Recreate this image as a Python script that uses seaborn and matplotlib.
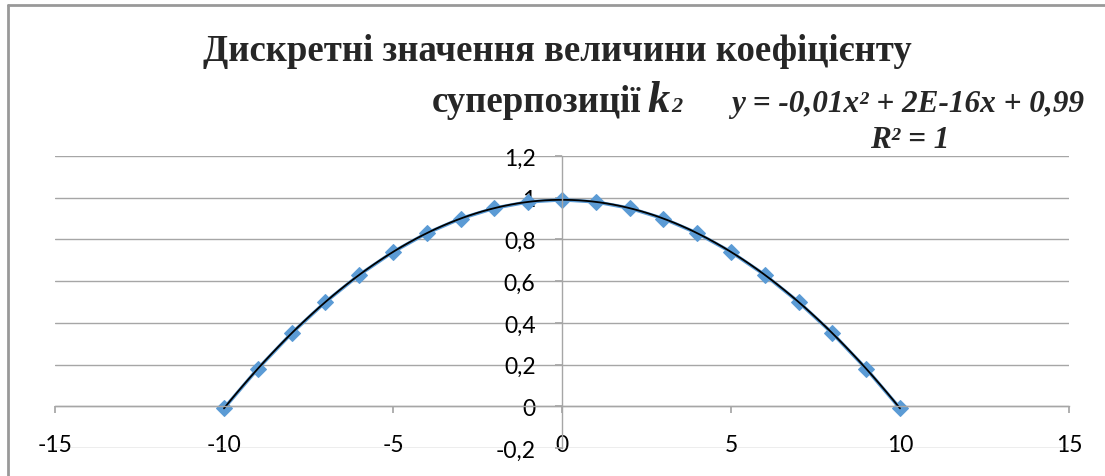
import numpy as np
import pandas as pd
import seaborn as sns
import matplotlib.pyplot as plt
from matplotlib.lines import Line2D
from matplotlib.ticker import FuncFormatter

# дані
x_vals = list(range(-10, 11))
y_vals = [-0.01, 0.18, 0.35, 0.50, 0.63, 0.74, 0.83, 0.90, 0.95, 0.98, 0.99,
          0.98, 0.95, 0.90, 0.83, 0.74, 0.63, 0.50, 0.35, 0.18, -0.01]
x_ticks = [-15, -10, -5, 0, 5, 10, 15]
y_ticks = [-0.2, 0, 0.2, 0.4, 0.6, 0.8, 1.0, 1.2]

title_1 = "Дискретні значення величини коефіцієнту"
title_2 = "суперпозиції"
eq_text = "y = -0,01x² + 2E-16x + 0,99"
r2_text = "R² = 1"

df = pd.DataFrame({"x": x_vals, "y": y_vals})

sns.set_theme(style="white")
plt.rcParams["font.family"] = ["Lato", "DejaVu Sans"]

W, H = 1105, 477
fig = plt.figure(figsize=(W / 100, H / 100), dpi=100)
ax = fig.add_axes([55 / W, 1 - 449 / H, (1069 - 55) / W, (449 - 157) / H])


def px(x, y):
    return x / W, 1 - y / H


# ряд даних + поліноміальна лінія тренду
sns.lineplot(data=df, x="x", y="y", marker="D", markersize=8.5, color="#5b9bd5",
             lw=2.5, markeredgecolor="#5b9bd5", ax=ax)
sns.regplot(data=df, x="x", y="y", order=2, scatter=False, ci=None,
            color="black", line_kws={"lw": 1.3}, ax=ax)

ax.set_xlim(-15, 15)
ax.set_ylim(-0.2, 1.2)
ax.set_xticks(x_ticks)
ax.set_yticks(y_ticks)
fmt = FuncFormatter(lambda v, p: f"{round(v, 2):g}".replace(".", ","))
ax.xaxis.set_major_formatter(fmt)
ax.yaxis.set_major_formatter(fmt)
ax.set_xlabel("")
ax.set_ylabel("")

ax.yaxis.grid(True, color="#a6a6a6", lw=1)
ax.xaxis.grid(False)
for s in ["top", "right"]:
    ax.spines[s].set_visible(False)
ax.spines["left"].set_position(("data", 0))
ax.spines["bottom"].set_position(("data", 0))
for s in ["left", "bottom"]:
    ax.spines[s].set_color("#a6a6a6")
    ax.spines[s].set_linewidth(1)

ax.tick_params(axis="x", bottom=True, direction="out", length=5, color="#a6a6a6",
               pad=15, labelsize=16.5, labelcolor="black")
ax.tick_params(axis="y", left=True, direction="out", length=5, color="#a6a6a6",
               pad=14, labelsize=16.5, labelcolor="black")

# заголовок
serif = "Liberation Serif"
fig.text(*px(557, 61), title_1, ha="center", va="baseline", family=serif,
         weight="bold", fontsize=26.5)
fig.text(*px(641, 112), title_2, ha="right", va="baseline", family=serif,
         weight="bold", fontsize=26.5)
fig.text(*px(647, 112), "k", ha="left", va="baseline", family=serif,
         weight="bold", style="italic", fontsize=32)
fig.text(*px(671, 112), "2", ha="left", va="baseline", family=serif,
         weight="bold", style="italic", fontsize=16)

# рівняння тренду
fig.text(*px(908, 112), eq_text, ha="center", va="baseline", family=serif,
         weight="bold", style="italic", fontsize=22.5)
fig.text(*px(910, 148), r2_text, ha="center", va="baseline", family=serif,
         weight="bold", style="italic", fontsize=22.5)

# рамка
fig.add_artist(Line2D([8 / W, 8 / W], [0, 1 - 6 / H], transform=fig.transFigure,
                      color="#999999", lw=2))
fig.add_artist(Line2D([8 / W, 1], [1 - 6 / H, 1 - 6 / H], transform=fig.transFigure,
                      color="#999999", lw=2))

fig.savefig("out.png", dpi=100)
